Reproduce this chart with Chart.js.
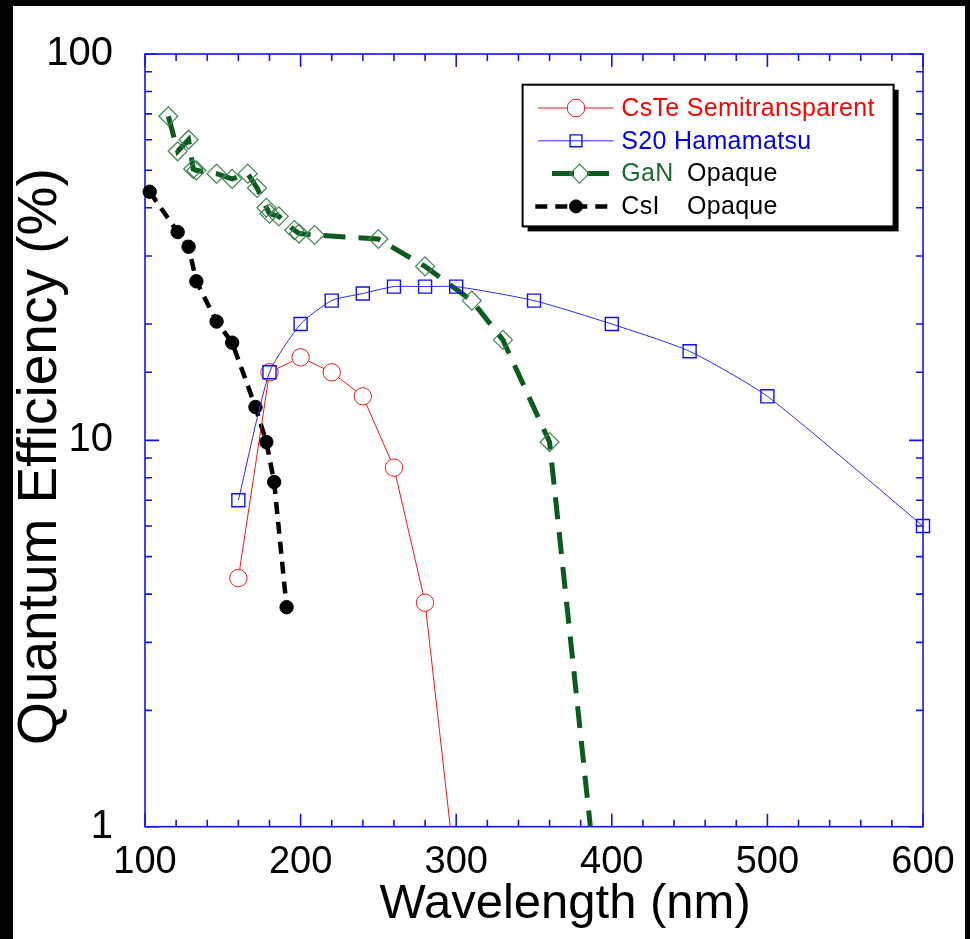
<!DOCTYPE html>
<html><head><meta charset="utf-8">
<script src="https://cdn.jsdelivr.net/npm/chart.js@4"></script>
<style>
html,body{margin:0;padding:0;background:#000;width:970px;height:939px;overflow:hidden}
#wrap{position:absolute;left:13px;top:6px;width:952px;height:933px;background:#fff}
canvas{display:block}
</style></head><body>
<div id="wrap"><canvas id="c" width="952" height="933"></canvas></div>
<script>
// ---- data ----
const csteWavelength = [160, 180, 200, 220, 240, 260, 280, 300];
const csteQE         = [4.4, 15.0, 16.4, 15.0, 13.0, 8.5, 3.8, 0.73];

const s20Wavelength = [160, 180, 200, 220, 240, 260, 280, 300, 350, 400, 450, 500, 600];
const s20QE         = [7.0, 15.0, 20.0, 23.0, 24.0, 25.0, 25.0, 25.0, 23.0, 20.0, 17.0, 13.0, 6.0];

const ganWavelength = [115, 121, 128, 131, 133, 146, 156, 166, 172, 178, 180, 186, 196, 199, 209, 250, 280, 310, 330, 360, 400];
const ganQE         = [69, 56, 60, 50.4, 50, 49, 47.5, 49, 45, 40, 38.6, 38, 35, 34.3, 34, 33.2, 28.2, 23, 18.2, 9.9, 0.3];

const csiWavelength = [103, 121, 128, 133, 146, 156, 171, 178, 183, 191];
const csiQE         = [44, 34.6, 31.7, 25.8, 20.3, 17.9, 12.2, 9.9, 7.8, 3.7];

const xTickLabels = [100, 200, 300, 400, 500, 600];
const yTickLabels = [1, 10, 100];

const seriesLabels = ['CsTe Semitransparent', 'S20 Hamamatsu', 'GaN Opaque', 'CsI Opaque'];
const legendParts = [
  [['CsTe Semitransparent', '#ff0000']],
  [['S20 Hamamatsu', '#0000ee']],
  [['GaN', '#1d6a2c'], ['Opaque', '#000000']],
  [['CsI', '#000000'], ['Opaque', '#000000']]
];
const xTitle = 'Wavelength (nm)';
const yTitle = 'Quantum Efficiency (%)';

const FONT = "'Liberation Sans', Arial, Helvetica, sans-serif";
const pts = (xs, ys) => xs.map((x, i) => ({x, y: ys[i]}));
const CLIP = {left: 12, top: 12, right: 12, bottom: 0};

// frame + inward ticks on all four sides
const frameTicks = {
  id: 'frameTicks',
  beforeDatasetsDraw(chart) {
    const {ctx, chartArea: a, scales: {x, y}} = chart;
    ctx.save();
    ctx.strokeStyle = '#1414f0';
    ctx.lineWidth = 1.6;
    ctx.strokeRect(a.left, a.top, a.right - a.left, a.bottom - a.top);
    ctx.beginPath();
    x.ticks.forEach(t => {
      const px = x.getPixelForValue(t.value);
      const len = xTickLabels.includes(t.value) ? 13 : 7;
      ctx.moveTo(px, a.bottom); ctx.lineTo(px, a.bottom - len);
      ctx.moveTo(px, a.top); ctx.lineTo(px, a.top + len);
    });
    y.ticks.forEach(t => {
      const py = y.getPixelForValue(t.value);
      const len = yTickLabels.includes(t.value) ? 14 : 7;
      ctx.moveTo(a.left, py); ctx.lineTo(a.left + len, py);
      ctx.moveTo(a.right, py); ctx.lineTo(a.right - len, py);
    });
    ctx.stroke();
    ctx.restore();
  }
};

// axis titles placed relative to the chart area
const axisTitles = {
  id: 'axisTitles',
  afterDraw(chart, args, o) {
    const {ctx, chartArea: a} = chart;
    ctx.save();
    ctx.fillStyle = '#000';
    ctx.textAlign = 'center';
    ctx.textBaseline = 'middle';
    ctx.font = o.xSize + 'px ' + FONT;
    ctx.fillText(xTitle, a.left + (a.right - a.left) * o.xAlong, a.bottom + o.xGap);
    ctx.translate(a.left - o.yGap, a.top + (a.bottom - a.top) * o.yAlong);
    ctx.rotate(-Math.PI / 2);
    ctx.font = o.ySize + 'px ' + FONT;
    ctx.fillText(yTitle, 0, 0);
    ctx.restore();
  }
};

// boxed legend with drop shadow and two-colour labels
const boxLegend = {
  id: 'boxLegend',
  afterDatasetsDraw(chart, args, o) {
    const {ctx, chartArea: a} = chart;
    const L = a.right - o.rightInset - o.width, T = a.top + o.topInset;
    ctx.save();
    ctx.fillStyle = '#000';
    ctx.fillRect(L + 5, T + 5, o.width, o.height);
    ctx.fillStyle = '#fff';
    ctx.fillRect(L, T, o.width, o.height);
    ctx.strokeStyle = '#000';
    ctx.lineWidth = 2;
    ctx.strokeRect(L, T, o.width, o.height);
    o.order.forEach((di, row) => {
      const ds = chart.data.datasets[di];
      const cy = T + o.firstRow + row * o.rowGap;
      ctx.save();
      ctx.strokeStyle = ds.borderColor;
      ctx.lineWidth = ds.borderWidth;
      ctx.setLineDash(ds.borderDash || []);
      ctx.beginPath();
      ctx.moveTo(L + o.sampleStart[row], cy);
      ctx.lineTo(L + o.sampleEnd, cy);
      ctx.stroke();
      ctx.setLineDash([]);
      ctx.strokeStyle = ds.pointBorderColor;
      ctx.fillStyle = ds.pointBackgroundColor;
      ctx.lineWidth = ds.pointBorderWidth;
      Chart.helpers.drawPoint(ctx, {pointStyle: ds.pointStyle, rotation: 0, radius: o.markerRadius[row], borderWidth: ds.pointBorderWidth}, L + o.markerX[row], cy);
      ctx.restore();
      ctx.font = o.fontSize + 'px ' + FONT;
      ctx.letterSpacing = o.letterSpacing;
      ctx.textBaseline = 'middle';
      ctx.textAlign = 'left';
      legendParts[row].forEach((p, k) => {
        ctx.fillStyle = p[1];
        ctx.fillText(p[0], L + o.textX[k], cy + 1);
      });
    });
    ctx.restore();
  }
};

new Chart(document.getElementById('c'), {
  type: 'line',
  data: {
    datasets: [
      {
        label: seriesLabels[0], data: pts(csteWavelength, csteQE),
        borderColor: '#f01818', borderWidth: 1, tension: 0,
        pointStyle: 'circle', pointRadius: 8.7, pointBorderWidth: 1,
        pointBorderColor: '#f01818', pointBackgroundColor: '#ffffff',
        order: 1, clip: CLIP
      },
      {
        label: seriesLabels[1], data: pts(s20Wavelength, s20QE),
        borderColor: '#2a2aee', borderWidth: 1, tension: 0.2,
        pointStyle: 'rect', pointRadius: 9.2, pointBorderWidth: 1.4,
        pointBorderColor: '#1010ee', pointBackgroundColor: 'rgba(255,255,255,0)',
        order: 0, clip: CLIP
      },
      {
        label: seriesLabels[2], data: pts(ganWavelength, ganQE),
        borderColor: '#0b5b1e', borderWidth: 5, borderDash: [22, 13], tension: 0,
        pointStyle: 'rectRot', pointRadius: 9.5, pointBorderWidth: 1.2,
        pointBorderColor: '#3f8550', pointBackgroundColor: 'rgba(255,255,255,0)',
        order: 2, clip: CLIP
      },
      {
        label: seriesLabels[3], data: pts(csiWavelength, csiQE),
        borderColor: '#000000', borderWidth: 4.5, borderDash: [12, 8], tension: 0,
        pointStyle: 'circle', pointRadius: 6.7, pointBorderWidth: 1,
        pointBorderColor: '#000000', pointBackgroundColor: '#000000',
        order: 3, clip: CLIP
      }
    ]
  },
  options: {
    responsive: false, animation: false, devicePixelRatio: 1,
    layout: {padding: {top: 43, right: 42, left: 0, bottom: 0}},
    plugins: {
      legend: {display: false},
      tooltip: {enabled: false},
      axisTitles: {xSize: 49, xAlong: 0.54, xGap: 78, ySize: 55, yAlong: 0.521, yGap: 104.5},
      boxLegend: {
        order: [0, 1, 2, 3],
        width: 371, height: 141.7, rightInset: 29.4, topInset: 30.7,
        firstRow: 23.3, rowGap: 32.8,
        sampleStart: [15.4, 15.4, 29.4, 12.7], sampleEnd: 91,
        markerX: [53.4, 53.4, 57, 53.4], markerRadius: [8.8, 8.4, 9.5, 6.5],
        textX: [98.7, 164.4], fontSize: 25, letterSpacing: '0.3px'
      }
    },
    scales: {
      x: {
        type: 'linear', min: 100, max: 600,
        grid: {display: false}, border: {display: false},
        ticks: {
          stepSize: 20, autoSkip: false, maxRotation: 0, padding: 5, color: '#000',
          font: {family: FONT, size: 38},
          callback: v => xTickLabels.includes(v) ? String(v) : ''
        },
        title: {display: false, text: xTitle},
        afterFit: s => { s.height = 112.3; }
      },
      y: {
        type: 'logarithmic', min: 1, max: 100,
        grid: {display: false}, border: {display: false},
        ticks: {
          autoSkip: false, padding: 24, color: '#000',
          font: {family: FONT, size: 40},
          callback: v => yTickLabels.includes(v) ? String(v) : ''
        },
        title: {display: false, text: yTitle},
        afterFit: s => { s.width = 132; }
      }
    }
  },
  plugins: [frameTicks, axisTitles, boxLegend]
});
</script>
</body></html>
